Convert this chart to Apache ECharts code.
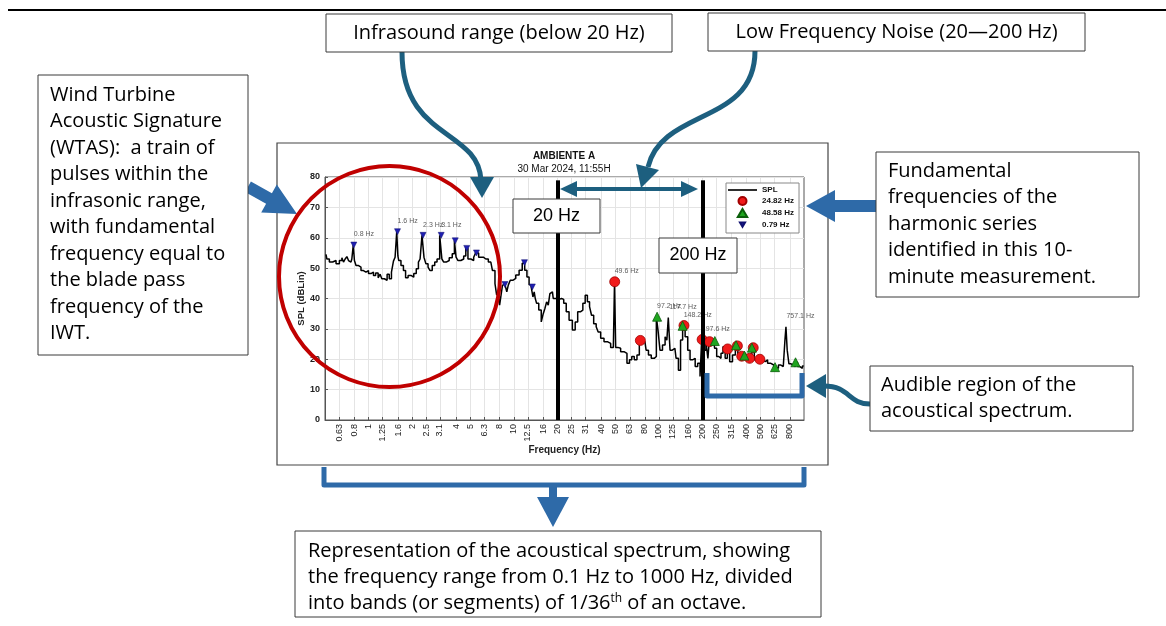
<!DOCTYPE html>
<html><head><meta charset="utf-8">
<script src="https://cdn.jsdelivr.net/npm/echarts@6/dist/echarts.min.js"></script>
<style>html,body{margin:0;padding:0;background:#fff}#c{width:1166px;height:626px}</style>
</head><body><div id="c"></div>
<script>
// ---- data ----
const tickLabels = [0.63,0.8,1,1.25,1.6,2,2.5,3.1,4,5,6.3,8,10,12.5,16,20,25,31,40,50,63,80,100,125,160,200,250,315,400,500,625,800];
const freqHz = [0.508,0.522,0.550,0.580,0.612,0.645,0.662,0.679,0.698,0.717,0.735,0.755,0.776,0.790,0.805,0.831,0.862,0.909,0.932,0.984,1.01,1.065,1.093,1.141,1.183,1.215,1.248,1.316,1.364,1.408,1.463,1.500,1.541,1.580,1.599,1.625,1.714,1.758,1.835,1.903,2.008,2.083,2.174,2.230,2.291,2.370,2.440,2.519,2.612,2.683,2.801,2.905,3.013,3.160,3.231,3.350,3.496,3.685,3.846,3.950,4.053,4.202,4.434,4.601,4.740,4.925,5.197,5.390,5.530,5.926,6.416,6.946,7.32,7.52,7.72,7.92,8.05,8.23,8.49,8.69,8.85,9.05,9.28,9.64,10.05,10.60,11.17,11.70,12.09,12.55,12.95,13.40,13.70,13.95,14.17,14.56,15.17,15.76,16.16,16.61,17.06,17.50,17.97,18.47,18.94,19.98,21.06,21.63,22.55,23.42,24.68,26.0,27.0,28.15,29.38,30.47,31.65,32.67,33.88,34.80,36.28,37.67,38.64,40.78,42.97,45.28,47.78,49.31,49.6,51.15,53.05,55.98,58.98,61.56,63.85,66.23,69.12,72.14,74.5,76.85,80.1,83.2,86.3,90.9,94.9,97.2,100.0,103.5,108.3,112.4,114.5,117.7,121.0,123.6,128.9,133.9,138.8,143.3,148.2,155.1,160.9,167.1,174.1,181.7,188.5,195.8,198.6,206.4,215.3,220.0,224.0,239.1,245.6,254.8,262.9,273.1,280.2,292.4,300.0,315.0,328.2,345.0,355.3,370.0,384.6,395.1,416.3,428.0,446.3,463.0,480.1,500.0,528.0,551.1,571.4,603.0,635.6,653.0,680.3,706.7,733.1,745.0,757.1,775.0,800.0,828.3,858.8,886.6,919.7,955.4,995.5];
const splDb = [54.5,53,52,52.5,51.4,52.5,53.4,52,53,53.8,52.5,52,53,57.6,52.5,50.9,50.3,49.2,48.7,49.2,48.2,48.7,47.6,48.4,46.8,48,46.5,46,48,46.5,48.7,52.3,53.6,62,54,52.5,50.9,49.2,46.8,47.6,47,48.2,49.8,52,53,60.8,53.6,51.4,50.3,49.2,50.9,52,53,60.8,53,52,52.5,53.4,54.7,59,53.6,52.5,53,54,56.5,53,52.5,53.6,55,53.6,53,52,49.2,44.9,41.1,42.2,37.8,40.5,44.4,44.6,44.9,42.2,44.4,46,46.6,47.7,49.3,51.6,49.3,47.1,44.5,43.8,40.5,42.2,40,38.4,36.2,32.3,35,36.7,38.9,37.8,41.6,42.2,40,39.7,40,39.7,38.4,35.6,32.8,29.6,32.3,35.6,36.2,38.4,41.1,38.9,37.3,34.5,31.7,30.7,29,26.9,25.8,25.2,23.9,24.3,45.5,23.9,23.6,22.5,21.9,18.7,19.8,20.9,19.8,21.4,26.2,26.3,25.8,23,21.4,20.3,20.9,34,29.6,23,24.7,27.4,26.3,33.7,23,23,23.6,20.3,16.4,26.3,31.2,27.4,23,19.8,20.3,17.6,18.7,14.3,26.5,23,25.8,20.3,25.8,25.6,23.6,20.9,20.3,22,24.1,20.3,23.3,19.2,21.4,24.4,20.9,21.1,20.3,21.4,20.3,20.3,23.8,19.8,20.3,19.8,19.2,19.8,18.7,18.1,17.4,17,18.1,17.6,18.1,26.3,30.7,23,18.5,18.1,17.6,18.9,17.6,17,17.8];
// harmonic series markers
const h2482Freq = [49.6,74.5,148.9,198.6,223.4,297.8,347.5,372.3,421.9,446.8,496.4];
const h2482Db   = [45.5,26.2,31.1,26.5,25.8,23.4,24.4,21.0,20.3,23.8,20.0];
const h4858Freq = [97.2,145.7,242.9,340.1,388.6,437.2,631.5,874.4];
const h4858Db   = [34.0,31.0,26.0,24.6,21.2,23.8,17.4,19.0];
const h079Freq  = [0.79,1.58,2.37,3.16,3.95,4.74,5.53,8.69,11.85,13.43];
const h079Db    = [57.6,62.0,60.8,60.8,59.0,56.5,55.0,44.6,51.8,43.8];
// peak annotations
const peakText = ['0.8 Hz','1.6 Hz','2.3 Hz','3.1 Hz','49.6 Hz','97.2 Hz','117.7 Hz','148.2 Hz','197.6 Hz','757.1 Hz'];
const peakFreq = [0.79,1.58,2.37,3.16,49.6,97.2,117.7,148.2,197.6,757.1];
const peakDb   = [57.6,62.0,60.8,60.8,45.5,34.0,33.7,31.2,26.5,30.7];
const bandEdges = [20, 200];
const seriesNames = ['SPL','24.82 Hz','48.58 Hz','0.79 Hz'];

// ---- styles ----
const TEAL = '#1d5f7f', BLUE = '#2e6aa8', CF = 'Liberation Sans, Arial, sans-serif', AF = '"Open Sans", sans-serif';
const zip = (a, b) => a.map((v, i) => [v, b[i]]);
const legendIcons = {
  'SPL': 'path://M0,0 H30 V1.7 H0 Z',
  '24.82 Hz': 'circle',
  '48.58 Hz': 'path://M5,0 L10,8.5 L0,8.5 Z',
  '0.79 Hz': 'path://M-3,-3 L-3,-3 Z M0,0 L10,0 L5,8.5 Z M13,13 L13,13 Z'
};

function box(x, y, w, h) {
  return {type:'rect', z:100, shape:{x, y, width:w, height:h}, style:{fill:'#fff', stroke:'#3a3a3a', lineWidth:1}};
}
function txt(x, y, text, opt) {
  return {type:'text', z:101, style:Object.assign({x, y, text, fontFamily:AF, fontSize:20, fill:'#000', align:'left', verticalAlign:'top', lineHeight:26.5}, opt || {})};
}

const graphics = [
  {type:'line', z:100, shape:{x1:8, y1:10, x2:1166, y2:10}, style:{stroke:'#000', lineWidth:2}},
  // chart frame
  {type:'rect', z:0, shape:{x:277, y:143, width:551, height:322}, style:{fill:'none', stroke:'#444', lineWidth:1.2}},
  // title
  {type:'text', z:50, style:{x:564, y:156, text:'AMBIENTE A', fontFamily:CF, fontSize:10, fontWeight:'bold', fill:'#111', align:'center', verticalAlign:'middle'}},
  {type:'text', z:50, style:{x:564, y:169, text:'30 Mar 2024, 11:55H', fontFamily:CF, fontSize:10, fill:'#111', align:'center', verticalAlign:'middle'}},
  // curved arrows (teal)
  {type:'bezierCurve', z:100, shape:{x1:402, y1:52, cpx1:402, cpy1:140, cpx2:478, cpy2:128, x2:481, y2:180}, style:{stroke:TEAL, lineWidth:5, fill:'none'}},
  {type:'polygon', z:100, shape:{points:[[470,177],[494,177],[482,198]]}, style:{fill:TEAL}},
  {type:'bezierCurve', z:100, shape:{x1:755, y1:51, cpx1:755, cpy1:125, cpx2:662, cpy2:108, x2:648, y2:167}, style:{stroke:TEAL, lineWidth:5, fill:'none'}},
  {type:'polygon', z:100, shape:{points:[[659,170],[636,164],[641,188]]}, style:{fill:TEAL}},
  {type:'bezierCurve', z:100, shape:{x1:870, y1:404, cpx1:848, cpy1:404, cpx2:850, cpy2:386, x2:824, y2:386}, style:{stroke:TEAL, lineWidth:5, fill:'none'}},
  {type:'polygon', z:100, shape:{points:[[826,374],[826,398],[806,386]]}, style:{fill:TEAL}},
  // double arrow 20-200 Hz
  {type:'line', z:100, shape:{x1:572, y1:189, x2:686, y2:189}, style:{stroke:TEAL, lineWidth:4}},
  {type:'polygon', z:100, shape:{points:[[560,189],[577,181],[577,197]]}, style:{fill:TEAL}},
  {type:'polygon', z:100, shape:{points:[[698,189],[681,181],[681,197]]}, style:{fill:TEAL}},
  // block arrows (blue)
  {type:'polygon', z:99, shape:{points:[[250.9,181.6],[271.9,193.3],[276.8,184.5],[297,214],[261.2,212.5],[266.1,203.8],[245.1,192.1]]}, style:{fill:BLUE}},
  {type:'polygon', z:99, shape:{points:[[878,200],[835,200],[835,190],[806,206],[835,222],[835,212],[878,212]]}, style:{fill:BLUE}},
  // brackets
  {type:'polyline', z:100, shape:{points:[[707,373],[707,396],[802,396],[802,373]]}, style:{stroke:BLUE, lineWidth:5, fill:'none', lineJoin:'round'}},
  {type:'polyline', z:100, shape:{points:[[324,467],[324,485],[804,485],[804,467]]}, style:{stroke:BLUE, lineWidth:5, fill:'none', lineJoin:'round'}},
  {type:'rect', z:100, shape:{x:549, y:485, width:8, height:14}, style:{fill:BLUE}},
  {type:'polygon', z:100, shape:{points:[[537,497],[569,497],[553,527]]}, style:{fill:BLUE}},
  // red circle
  {type:'circle', z:100, shape:{cx:389.5, cy:276.5, r:110.5}, style:{fill:'none', stroke:'#c00000', lineWidth:4}},
  // boxes
  box(326,14,346,38), txt(499,33,'Infrasound range (below 20 Hz)',{align:'center', verticalAlign:'middle'}),
  box(708,13,377,38), txt(896.5,32,'Low Frequency Noise (20\u2014200 Hz)',{align:'center', verticalAlign:'middle'}),
  box(38,75,210,280), txt(50,81.7,'Wind Turbine\nAcoustic Signature\n(WTAS):  a train of\npulses within the\ninfrasonic range,\nwith fundamental\nfrequency equal to\nthe blade pass\nfrequency of the\nIWT.'),
  box(876,152,263,145), txt(888,157.8,'Fundamental\nfrequencies of the\nharmonic series\nidentified in this 10-\nminute measurement.'),
  box(870,366,263,65), txt(881,371.8,'Audible region of the\nacoustical spectrum.'),
  box(295,531,526,86),
  txt(308,537.8,'Representation of the acoustical spectrum, showing\nthe frequency range from 0.1 Hz to 1000 Hz, divided'),
  {type:'text', z:101, style:{x:308, y:603, verticalAlign:'middle', text:'{a|into bands (or segments) of 1/36}{s|th}{a| of an octave.}',
    rich:{a:{fontFamily:AF, fontSize:20, fill:'#000'}, s:{fontFamily:AF, fontSize:12, fill:'#000', verticalAlign:'top', padding:[0,0,9,0]}}}},
  // band boxes
  box(513,199,87,34), {type:'text', z:101, style:{x:556.5, y:216, text:'20 Hz', fontFamily:CF, fontSize:18, fill:'#000', align:'center', verticalAlign:'middle'}},
  box(659,238,78,35), {type:'text', z:101, style:{x:698, y:255.5, text:'200 Hz', fontFamily:CF, fontSize:18, fill:'#000', align:'center', verticalAlign:'middle'}}
];

const chart = echarts.init(document.getElementById('c'), null, {renderer:'canvas'});
chart.setOption({
  animation:false,
  backgroundColor:'#fff',
  grid:{left:325, right:362, top:177, bottom:206, show:true, borderColor:'#555', borderWidth:1, backgroundColor:'#fff', outerBoundsMode:'none'},
  legend:{
    data:seriesNames.map(n => ({name:n, icon:legendIcons[n]})),
    orient:'vertical', left:726, top:183, itemWidth:29, itemHeight:8, itemGap:2, symbolKeepAspect:true,
    padding:[3,5,3,2], borderColor:'#888', borderWidth:1, backgroundColor:'#fff', selectedMode:false,
    textStyle:{fontFamily:CF, fontSize:8, fontWeight:'bold', color:'#111'}
  },
  xAxis:{
    type:'log', logBase:10, min:0.5, max:1000,
    name:'Frequency (Hz)', nameLocation:'middle', nameGap:25,
    nameTextStyle:{fontFamily:CF, fontSize:10, fontWeight:'bold', color:'#222'},
    axisLine:{show:true, lineStyle:{color:'#555'}},
    axisTick:{show:true, inside:true, length:3, customValues:tickLabels, lineStyle:{color:'#555'}},
    axisLabel:{show:true, rotate:90, margin:4, fontFamily:CF, fontSize:9, color:'#222', customValues:tickLabels,
      formatter:(v) => { let best = tickLabels[0]; tickLabels.forEach(t => { if (Math.abs(Math.log(v / t)) < Math.abs(Math.log(v / best))) best = t; }); return String(best); }},
    splitLine:{show:true, lineStyle:{color:'#e4e4e4', width:1}},
    minorTick:{show:false}
  },
  yAxis:{
    type:'value', min:0, max:80, interval:10,
    name:'SPL (dBLin)', nameLocation:'middle', nameGap:17,
    nameTextStyle:{fontFamily:CF, fontSize:9.5, fontWeight:'bold', color:'#222'},
    axisLine:{show:true, lineStyle:{color:'#555'}},
    axisTick:{show:true, inside:true, length:3, lineStyle:{color:'#555'}},
    axisLabel:{fontFamily:CF, fontSize:9, fontWeight:'bold', color:'#222', margin:5},
    splitLine:{show:true, lineStyle:{color:'#e4e4e4', width:1}}
  },
  series:[
    {name:'SPL', type:'line', step:'middle', symbol:'none', showSymbol:false, z:2, data:zip(freqHz, splDb),
      lineStyle:{color:'#000', width:1.5}, itemStyle:{color:'#000'}},
    {name:'24.82 Hz', type:'scatter', z:3, symbol:'circle', symbolSize:10, data:zip(h2482Freq, h2482Db),
      itemStyle:{color:'#f01a1a', borderColor:'#a00000', borderWidth:0.8, opacity:1}},
    {name:'48.58 Hz', type:'scatter', z:3, symbol:'triangle', symbolSize:9, data:zip(h4858Freq, h4858Db),
      itemStyle:{color:'#1fa51f', borderColor:'#0b5e0b', borderWidth:0.8, opacity:1}},
    {name:'0.79 Hz', type:'scatter', z:3, symbol:'triangle', symbolRotate:180, symbolSize:6, data:zip(h079Freq, h079Db),
      itemStyle:{color:'#1f1fb0', borderColor:'#101070', borderWidth:0.5, opacity:1}},
    {name:'peaks', type:'scatter', z:3, symbolSize:0, silent:true,
      data:peakFreq.map((f, i) => ({name:peakText[i], value:[f, peakDb[i]]})),
      label:{show:true, position:'top', distance:7, align:'left', formatter:'{b}', fontFamily:CF, fontSize:7, color:'#333'}},
    {name:'bands', type:'line', z:5, data:[], silent:true,
      markLine:{silent:true, symbol:['none','none'], label:{show:false}, lineStyle:{color:'#000', width:4, type:'solid'},
        data:bandEdges.map(f => [{coord:[f, 78.9]}, {coord:[f, 0]}])}}
  ],
  graphic:{elements:graphics}
});
</script></body></html>
